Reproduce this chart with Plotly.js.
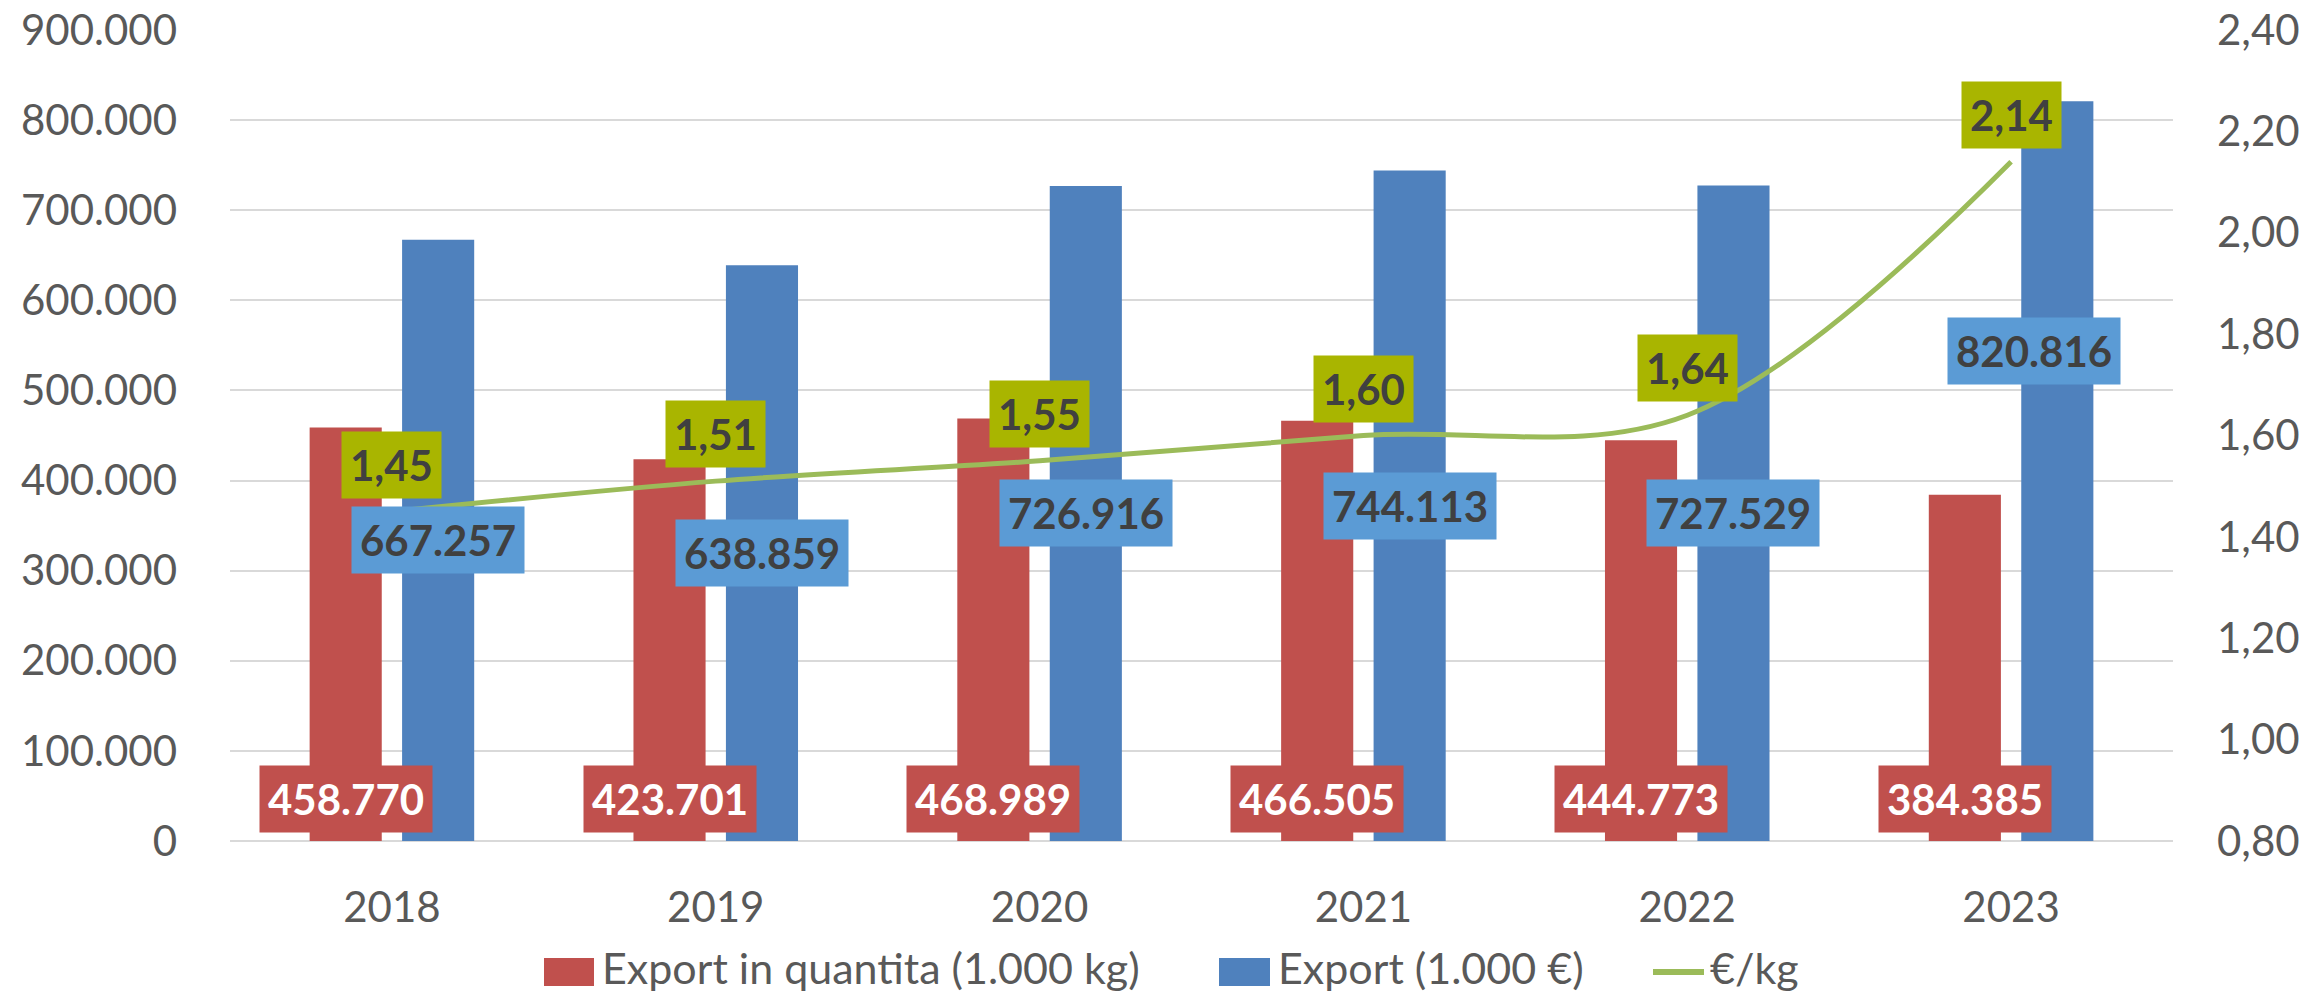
<!DOCTYPE html>
<html>
<head>
<meta charset="utf-8">
<script src="https://cdn.plot.ly/plotly-3.0.1.min.js"></script>
<style>
  html, body { margin: 0; padding: 0; background: #ffffff; }
  #chart { width: 2310px; height: 997px; }
</style>
</head>
<body>
<div id="chart"></div>
<script>
// ---- data ----
const years = ['2018', '2019', '2020', '2021', '2022', '2023'];
const exportQty = [458770, 423701, 468989, 466505, 444773, 384385];   // Export in quantita (1.000 kg)
const exportVal = [667257, 638859, 726916, 744113, 727529, 820816];   // Export (1.000 €)
const pricePerKg = [1.45, 1.51, 1.55, 1.60, 1.64, 2.14];              // €/kg
const seriesNames = ['Export in quantita (1.000 kg)', 'Export (1.000 €)', '€/kg'];

// ---- styling ----
const FONT = 'Lato, "Open Sans", sans-serif';
const RED = '#C0504D', BLUE = '#4F81BD', GREEN = '#9BBB59';
const BLUE_LBL = '#5B9BD5', GREEN_LBL = '#A9B500';
const TXT = '#595959', DARK = '#404040';
const W = 2310, H = 997;
const M = { l: 230, r: 137, t: 30, b: 156 };
const BARGAP = 0.429, BARGROUPGAP = 0.22;
// manual nudges (pixels) of the value labels of the Export (1.000 €) bars, as placed in the reference
const valLabelNudgeX = [0, 0, 0, 0, 0, -23];
const valLabelNudgeY = [0, 0, 0, 0, 0, 120];

function fmtThousands(v) {
  return String(Math.round(v)).replace(/\B(?=(\d{3})+(?!\d))/g, '.');
}
function fmtDec(v) { return v.toFixed(2).replace('.', ','); }

const plotW = W - M.l - M.r;
const slot = plotW / years.length * (1 - BARGAP) / 2;
const half = slot / 2;

const traces = [
  { type: 'bar', name: seriesNames[0], x: years, y: exportQty,
    marker: { color: RED }, showlegend: false, hoverinfo: 'skip' },
  { type: 'bar', name: seriesNames[1], x: years, y: exportVal,
    marker: { color: BLUE }, showlegend: false, hoverinfo: 'skip' },
  { type: 'scatter', mode: 'lines', name: seriesNames[2], x: years, y: pricePerKg, yaxis: 'y2',
    line: { color: GREEN, width: 5, shape: 'spline', smoothing: 1 },
    showlegend: false, hoverinfo: 'skip' }
];

const annotations = [];
const labelFont = (c) => ({ family: FONT, size: 42, color: c, weight: 'bold' });

years.forEach((yr, i) => {
  // red labels near the base (x given as category index)
  annotations.push({
    x: i, xref: 'x', xshift: -half, y: 0.0512, yref: 'paper', yanchor: 'middle',
    text: '<b>' + fmtThousands(exportQty[i]) + '</b>', showarrow: false,
    bgcolor: RED, borderpad: 8, font: labelFont('#ffffff')
  });
  // blue labels in the middle of the bar
  annotations.push({
    x: i, xref: 'x', xshift: half + valLabelNudgeX[i], y: exportVal[i] / 2, yref: 'y',
    yanchor: 'middle', yshift: valLabelNudgeY[i],
    text: '<b>' + fmtThousands(exportVal[i]) + '</b>', showarrow: false,
    bgcolor: BLUE_LBL, borderpad: 8, font: labelFont(DARK)
  });
  // green labels above the line
  annotations.push({
    x: i, xref: 'x', y: pricePerKg[i], yref: 'y2',
    yanchor: 'middle', yshift: 47,
    text: '<b>' + fmtDec(pricePerKg[i]) + '</b>', showarrow: false,
    bgcolor: GREEN_LBL, borderpad: 8, font: labelFont(DARK)
  });
});

// ---- custom legend (pixel positions converted to paper coords) ----
const px = (X) => (X - M.l) / plotW;
const py = (Y) => (H - M.b - Y) / (H - M.t - M.b);
const shapes = [
  { type: 'rect', xref: 'paper', yref: 'paper', x0: px(544), x1: px(594), y0: py(986), y1: py(958),
    fillcolor: RED, line: { width: 0 } },
  { type: 'rect', xref: 'paper', yref: 'paper', x0: px(1219), x1: px(1270), y0: py(986), y1: py(958),
    fillcolor: BLUE, line: { width: 0 } },
  { type: 'line', xref: 'paper', yref: 'paper', x0: px(1653), x1: px(1704), y0: py(972), y1: py(972),
    line: { color: GREEN, width: 6 } }
];
const legX = [600, 1276, 1708];
seriesNames.forEach((n, i) => {
  annotations.push({
    x: px(legX[i]), xref: 'paper', xanchor: 'left', y: py(967), yref: 'paper', yanchor: 'middle',
    text: n, showarrow: false, font: { family: FONT, size: 43, color: TXT }
  });
});

const layout = {
  width: W, height: H,
  margin: M,
  paper_bgcolor: '#ffffff', plot_bgcolor: '#ffffff',
  separators: ',.',
  font: { family: FONT, size: 42, color: TXT },
  barmode: 'group', bargap: BARGAP, bargroupgap: BARGROUPGAP,
  showlegend: false,
  xaxis: {
    type: 'category', categoryorder: 'array', categoryarray: years,
    range: [-0.5, years.length - 0.5], autorange: false,
    showgrid: false, showline: false, zeroline: false,
    ticks: '', tickfont: { family: FONT, size: 42, color: TXT }, ticklabelstandoff: 38
  },
  yaxis: {
    range: [0, 900000], autorange: false, dtick: 100000, tick0: 0, tickformat: ',d',
    showgrid: true, gridcolor: '#D9D9D9', gridwidth: 2,
    zeroline: true, zerolinecolor: '#D9D9D9', zerolinewidth: 2,
    showline: false, ticks: '', ticklabelstandoff: 52,
    tickfont: { family: FONT, size: 42, color: TXT }
  },
  yaxis2: {
    overlaying: 'y', side: 'right', range: [0.8, 2.4], autorange: false, dtick: 0.2, tick0: 0.8,
    tickformat: '.2f',
    showgrid: false, zeroline: false, showline: false, ticks: '', ticklabelstandoff: 43,
    tickfont: { family: FONT, size: 42, color: TXT }
  },
  annotations: annotations,
  shapes: shapes
};

Plotly.newPlot('chart', traces, layout, { displayModeBar: false, staticPlot: true });
</script>
</body>
</html>
